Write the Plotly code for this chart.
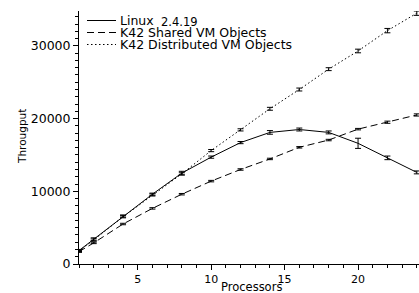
import plotly.graph_objects as go

processors = [1, 2, 4, 6, 8, 10, 12, 14, 16, 18, 20, 22, 24]
linux = [1850, 3400, 6600, 9600, 12500, 14700, 16700, 18100, 18500, 18100, 16600, 14600, 12600]
linux_err = [150, 200, 150, 150, 250, 150, 150, 250, 200, 200, 700, 250, 200]
shared = [1700, 2900, 5500, 7650, 9600, 11400, 13000, 14450, 16050, 17050, 18550, 19500, 20500]
shared_err = [100, 100, 100, 100, 100, 100, 100, 100, 100, 100, 100, 150, 150]
distributed = [1800, 3300, 6500, 9500, 12400, 15600, 18450, 21350, 24000, 26800, 29300, 32100, 34500]
distributed_err = [100, 150, 150, 150, 150, 150, 150, 200, 200, 200, 250, 300, 300]

x_ticks = [5, 10, 15, 20]
y_ticks = [0, 10000, 20000, 30000]

DASH = "7px,4px"
DOT = "1.5px,2.5px"
series = [
    ("Linux", linux, linux_err, "solid"),
    ("K42 Shared VM Objects", shared, shared_err, DASH),
    ("K42 Distributed VM Objects", distributed, distributed_err, DOT),
]

W, H = 419, 293
L, R, T, B = 79, 0, 11, 29
pw, ph = W - L - R, H - T - B

def px(xp):
    return (xp - L) / pw

def py(yp):
    return (H - B - yp) / ph

font_family = "DejaVu Sans"
fig = go.Figure()
for name, vals, errs, dash in series:
    fig.add_trace(go.Scatter(
        x=processors, y=vals, name=name, mode="lines",
        line=dict(color="black", width=1, dash=dash),
        error_y=dict(type="data", array=errs, visible=True, color="black", thickness=1, width=3),
        cliponaxis=False, showlegend=False,
    ))

# manual legend (compact row spacing like the reference)
shapes = []
annotations = []
rows = [20.5, 32.5, 44.5]
for (name, _, _, dash), yrow in zip(series, rows):
    shapes.append(dict(type="line", xref="paper", yref="paper",
                       x0=px(87), x1=px(116), y0=py(yrow), y1=py(yrow),
                       line=dict(color="black", width=1, dash=dash)))
    annotations.append(dict(text=name, xref="paper", yref="paper",
                            x=px(119), y=py(yrow), xanchor="left", yanchor="middle",
                            showarrow=False, borderpad=0,
                            font=dict(size=12.5, family=font_family)))
annotations.append(dict(text="2.4.19", xref="paper", yref="paper",
                        x=px(160), y=py(rows[0] + 1.5), xanchor="left", yanchor="middle",
                        showarrow=False, borderpad=0,
                        font=dict(size=11.5, family=font_family)))
# axis titles
annotations.append(dict(text="Processors", xref="paper", yref="paper",
                        x=px(251), y=py(287), xanchor="center", yanchor="middle",
                        showarrow=False, borderpad=0,
                        font=dict(size=11.5, family=font_family)))
annotations.append(dict(text="Througput", xref="paper", yref="paper",
                        x=px(22), y=py(137), xanchor="center", yanchor="middle",
                        textangle=-90, showarrow=False, borderpad=0,
                        font=dict(size=10.5, family=font_family)))

fig.update_layout(
    width=W, height=H,
    margin=dict(l=L, r=R, t=T, b=B),
    paper_bgcolor="white", plot_bgcolor="white",
    font=dict(family=font_family, color="black", size=12),
    showlegend=False,
    shapes=shapes, annotations=annotations,
    xaxis=dict(
        range=[1, 24.15], showgrid=False, zeroline=False, automargin=False,
        showline=True, linecolor="black", linewidth=1,
        ticks="outside", ticklen=5, tickcolor="black",
        tickvals=x_ticks, tickfont=dict(size=11),
        minor=dict(dtick=1, ticks="outside", ticklen=3, tickcolor="black", showgrid=False),
    ),
    yaxis=dict(
        range=[0, 34800], showgrid=False, zeroline=False, automargin=False,
        showline=True, linecolor="black", linewidth=1,
        ticks="outside", ticklen=5, tickcolor="black",
        tickvals=y_ticks, ticktext=[str(v) for v in y_ticks], tickfont=dict(size=12.5),
        minor=dict(dtick=1000, ticks="outside", ticklen=3, tickcolor="black", showgrid=False),
    ),
)

fig.write_html("out.html", config={"displayModeBar": False},
               post_script="document.body.style.margin='0';document.body.style.padding='0';")
